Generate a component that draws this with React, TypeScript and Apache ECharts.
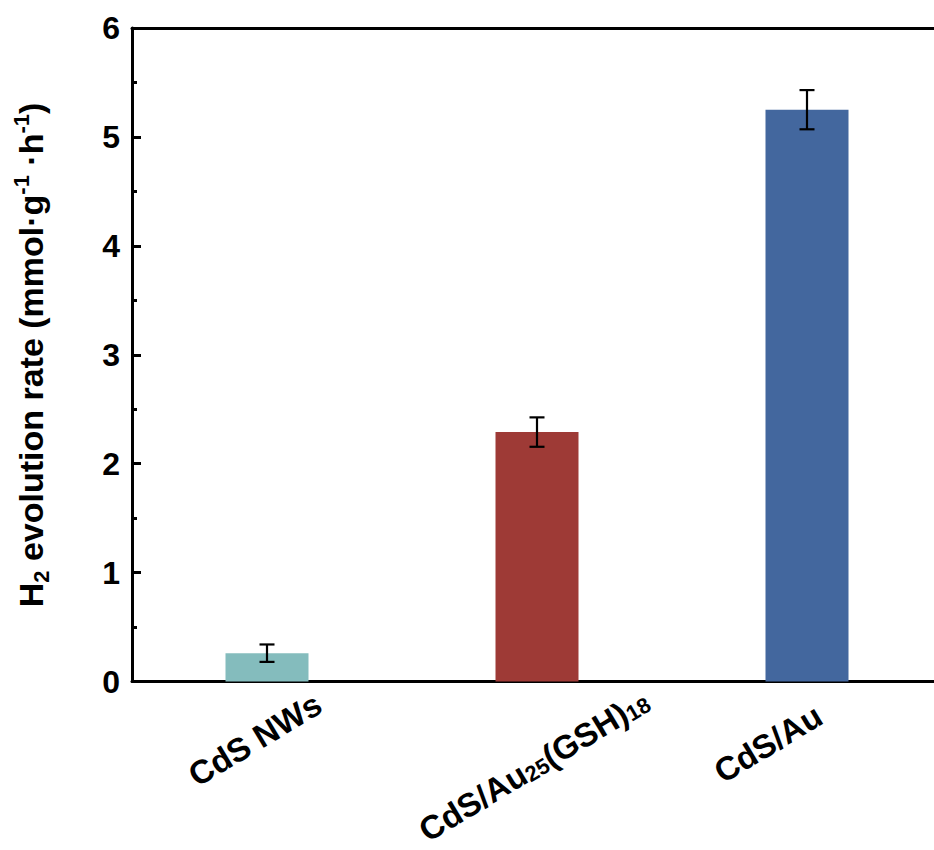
import React, { useEffect, useRef } from 'react';
import * as echarts from 'echarts';

// ---- data ----
const categories = ['CdS NWs', 'CdS/Au25(GSH)18', 'CdS/Au'];
const rates = [0.26, 2.29, 5.25];
const errors = [0.08, 0.135, 0.18];
const yMin = 0;
const yMax = 6;
const yInterval = 1;
// rich-text versions of the category labels (subscripts)
const categoryRich = ['{m|CdS NWs}', '{m|CdS/Au}{s|25}{m|(GSH)}{s|18}', '{m|CdS/Au}'];
const yTitleRich = '{m|H}{s|2}{m| evolution rate (mmol·g}{p|-1}{m| ·h}{p|-1}{m|)}';

// ---- styles ----
const barColors = ['#84BCBD', '#9E3A36', '#43679E'];
const FONT = '"Liberation Sans", Arial, Helvetica, sans-serif';
const labelOffsets: [number, number][] = [
  [-12, 58],
  [-3, 84],
  [-39, 62],
];

export default function App() {
  const ref = useRef<HTMLDivElement>(null);

  useEffect(() => {
    if (!ref.current) return;
    const chart = echarts.init(ref.current, undefined, { renderer: 'svg' });

    const axisLineStyle = { color: '#000', width: 3 };

    chart.setOption({
      animation: false,
      backgroundColor: '#fff',
      grid: {
        left: 132,
        top: 28,
        width: 810,
        height: 653.5,
        containLabel: false,
        outerBoundsMode: 'none',
      },
      xAxis: [
        {
          type: 'category',
          data: categories,
          position: 'bottom',
          axisLine: { lineStyle: axisLineStyle },
          axisTick: { show: false },
          axisLabel: { show: false },
          splitLine: { show: false },
        },
        {
          type: 'category',
          data: categories,
          position: 'top',
          axisLine: { lineStyle: axisLineStyle },
          axisTick: { show: false },
          axisLabel: { show: false },
          splitLine: { show: false },
        },
      ],
      yAxis: {
        type: 'value',
        min: yMin,
        max: yMax,
        interval: yInterval,
        axisLine: { show: true, lineStyle: axisLineStyle },
        axisTick: { show: true, inside: true, length: 9, lineStyle: { color: '#000', width: 3 } },
        minorTick: { show: true, splitNumber: 2, length: 5, lineStyle: { color: '#000', width: 3 } },
        splitLine: { show: false },
        axisLabel: {
          color: '#000',
          fontSize: 32,
          fontWeight: 'bold',
          fontFamily: FONT,
          margin: 12,
        },
      },
      series: [
        {
          type: 'bar',
          barWidth: 83,
          data: rates.map((v, i) => ({ value: v, itemStyle: { color: barColors[i] } })),
        },
        {
          type: 'custom',
          z: 10,
          renderItem: (_params: any, api: any) => {
            const x = api.value(0);
            const y = api.value(1);
            const e = api.value(2);
            const top = api.coord([x, y + e]);
            const bot = api.coord([x, y - e]);
            const hw = 7.5;
            const st = { stroke: '#000', lineWidth: 2.2 };
            return {
              type: 'group',
              children: [
                { type: 'line', shape: { x1: top[0], y1: top[1], x2: bot[0], y2: bot[1] }, style: st },
                { type: 'line', shape: { x1: top[0] - hw, y1: top[1], x2: top[0] + hw, y2: top[1] }, style: st },
                { type: 'line', shape: { x1: bot[0] - hw, y1: bot[1], x2: bot[0] + hw, y2: bot[1] }, style: st },
              ],
            };
          },
          data: categories.map((_c, i) => [i, rates[i], errors[i]]),
        },
      ],
    });

    const labelRichStyles = {
      m: { fontSize: 33, fontWeight: 'bold', fontFamily: FONT, fill: '#000', lineHeight: 33 },
      s: { fontSize: 22, fontWeight: 'bold', fontFamily: FONT, fill: '#000', lineHeight: 15, verticalAlign: 'bottom' },
    };

    const graphics: any[] = categories.map((_c, i) => {
      const p = chart.convertToPixel({ xAxisIndex: 0, yAxisIndex: 0 }, [i, yMin]) as number[];
      return {
        type: 'text',
        x: p[0] + labelOffsets[i][0],
        y: p[1] + labelOffsets[i][1],
        rotation: (31 * Math.PI) / 180,
        style: {
          text: categoryRich[i],
          align: 'center',
          verticalAlign: 'middle',
          rich: labelRichStyles,
        },
      };
    });

    graphics.push({
      type: 'text',
      x: 31,
      y: 355,
      rotation: Math.PI / 2,
      style: {
        text: yTitleRich,
        align: 'center',
        verticalAlign: 'middle',
        rich: {
          m: { fontSize: 34, fontWeight: 'bold', fontFamily: FONT, fill: '#000', lineHeight: 42 },
          s: { fontSize: 22, fontWeight: 'bold', fontFamily: FONT, fill: '#000', lineHeight: 22, verticalAlign: 'bottom' },
          p: { fontSize: 22, fontWeight: 'bold', fontFamily: FONT, fill: '#000', lineHeight: 22, verticalAlign: 'top' },
        },
      },
    });

    chart.setOption({ graphic: graphics });

    return () => chart.dispose();
  }, []);

  return (
    <div
      ref={ref}
      style={{ position: 'fixed', left: 0, top: 0, width: 934, height: 850, background: '#fff' }}
    />
  );
}
